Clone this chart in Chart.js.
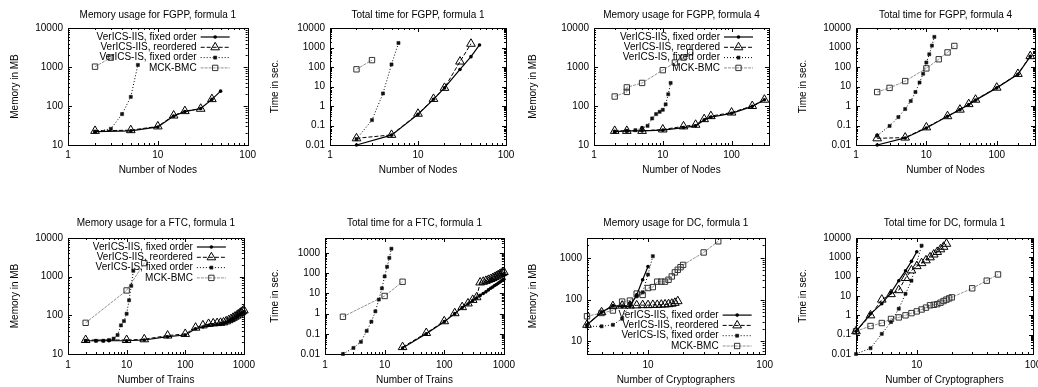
<!DOCTYPE html>
<html>
<head>
<meta charset="utf-8">
<title>VerICS-IIS, VerICS-IS and MCK-BMC</title>
<script src="https://cdn.jsdelivr.net/npm/chart.js@4.4.1/dist/chart.umd.min.js"></script>
<style>
  html, body { margin: 0; padding: 0; background: #fff; overflow: hidden; }
  body { position: relative; width: 1038px; height: 387px; }
  canvas { position: absolute; }
</style>
</head>
<body>
<script>
// series names (same four in every panel)
const seriesNames = ['VerICS-IIS, fixed order', 'VerICS-IIS, reordered', 'VerICS-IS, fixed order', 'MCK-BMC'];

// tick labels
const decadeTicks = [0.01, 0.1, 1, 10, 100, 1000, 10000];

// --- FGPP, formula 1: memory (MB)
const p1IisX = [2, 5, 10, 15, 20, 30, 40, 50];
const p1IisY = [22, 23, 29, 55, 72, 86, 148, 240];
const p1ReoX = [2, 5, 10, 15, 20, 30, 40];
const p1ReoY = [23, 24, 30, 57, 74, 85, 150];
const p1IsX = [2, 3, 4, 5, 6];
const p1IsY = [22, 26, 62, 172, 1130];
const p1MckX = [2, 3];
const p1MckY = [1020, 1740];

// --- FGPP, formula 1: time (s)
const p2IisX = [2, 5, 10, 15, 20, 30, 40, 50];
const p2IisY = [0.01, 0.032, 0.37, 2.2, 8.5, 75, 340, 1350];
const p2ReoX = [2, 5, 10, 15, 20, 30, 40];
const p2ReoY = [0.022, 0.033, 0.4, 2.3, 8.5, 190, 1550];
const p2IsX = [2, 3, 4, 5, 6];
const p2IsY = [0.02, 0.19, 4.4, 135, 1700];
const p2MckX = [2, 3];
const p2MckY = [76, 225];

// --- FGPP, formula 4: memory (MB)
const p3IisX = [2, 3, 5, 10, 20, 30, 40, 50, 100, 200, 300];
const p3IisY = [22, 23, 23, 24, 28, 31, 44, 52, 65, 98, 145];
const p3ReoX = [2, 3, 5, 10, 20, 30, 40, 50, 100, 200, 300];
const p3ReoY = [23, 23, 23, 25, 30, 33, 46, 55, 68, 100, 145];
const p3IsX = [2, 3, 4, 5, 6, 7, 8, 9, 10, 11, 12, 13];
const p3IsY = [22, 23, 24, 27, 31, 48, 62, 71, 80, 110, 200, 390];
const p3MckX = [2, 3, 3, 5, 10, 15, 20, 25];
const p3MckY = [175, 230, 300, 390, 830, 1300, 1750, 2400];

// --- FGPP, formula 4: time (s)
const p4IisX = [2, 5, 10, 20, 30, 40, 50, 100, 200, 300];
const p4IisY = [0.01, 0.023, 0.075, 0.3, 0.65, 1.2, 2.0, 8.5, 42, 350];
const p4ReoX = [2, 5, 10, 20, 30, 40, 50, 100, 200, 300];
const p4ReoY = [0.022, 0.024, 0.08, 0.3, 0.65, 1.25, 2.1, 8.7, 44, 360];
const p4IsX = [2, 3, 4, 5, 6, 7, 8, 9, 10, 11, 12, 13];
const p4IsY = [0.03, 0.095, 0.27, 0.7, 1.8, 5.2, 16, 45, 170, 450, 1250, 3500];
const p4MckX = [2, 3, 5, 10, 15, 20, 25];
const p4MckY = [5.2, 8.5, 19, 85, 250, 560, 1200];

// --- FTC, formula 1: memory (MB)
const p5IisX = [2, 3, 4, 5, 10, 20, 50, 100, 150, 200, 250, 300, 350, 400, 450, 500, 550, 600, 650, 700, 750, 800, 850, 900, 950, 1000];
const p5IisY = [22, 22, 22, 22, 22, 23, 28, 31, 45, 50, 55, 57, 58, 60, 62, 66, 70, 75, 80, 85, 90, 97, 105, 110, 118, 125];
const p5ReoX = [2, 10, 20, 50, 100, 150, 200, 250, 300, 350, 400, 450, 500, 550, 600, 650, 700, 750, 800, 850, 900, 950, 1000];
const p5ReoY = [23, 23, 24, 30, 33, 48, 55, 60, 62, 63, 64, 66, 70, 75, 80, 86, 92, 98, 105, 112, 120, 128, 135];
const p5IsX = [2, 3, 4, 5, 6, 7, 8, 9, 10, 11, 12, 13];
const p5IsY = [22, 22, 22, 23, 25, 31, 55, 71, 110, 245, 580, 1420];
const p5MckX = [2, 10, 20];
const p5MckY = [64, 440, 2240];

// --- FTC, formula 1: time (s)
const p6IisX = [20, 50, 100, 150, 200, 250, 300, 350, 400, 450, 500, 550, 600, 650, 700, 750, 800, 850, 900, 950, 1000];
const p6IisY = [0.02, 0.1, 0.4, 1.0, 2.0, 3.0, 4.5, 6, 8, 10, 12, 15, 18, 21, 25, 28, 32, 36, 41, 46, 50];
const p6ReoX = [20, 50, 100, 150, 200, 250, 300, 350, 400, 450, 500, 550, 600, 650, 700, 750, 800, 850, 900, 950, 1000];
const p6ReoY = [0.022, 0.11, 0.42, 1.05, 2.1, 3.2, 4.8, 6.5, 35, 38, 42, 47, 52, 58, 65, 72, 80, 88, 96, 105, 115];
const p6IsX = [2, 3, 4, 5, 6, 7, 8, 9, 10, 11, 12, 13];
const p6IsY = [0.01, 0.02, 0.04, 0.14, 0.4, 1.3, 5, 18, 70, 210, 580, 1650];
const p6MckX = [2, 10, 20];
const p6MckY = [0.7, 7.5, 38];

// --- DC, formula 1: memory (MB)
const p7IisX = [3, 4, 5, 6, 7, 8, 9, 10];
const p7IisY = [25, 50, 72, 68, 69, 130, 300, 620];
const p7ReoX = [3, 4, 5, 6, 7, 8, 9, 10, 11, 12, 13, 14, 15, 16, 17, 18];
const p7ReoY = [25, 50, 70, 72, 72, 73, 74, 74, 75, 75, 76, 77, 78, 80, 84, 92];
const p7IsX = [3, 4, 5, 6, 7, 8, 9, 10, 11];
const p7IsY = [23, 23, 25, 35, 80, 120, 150, 400, 1100];
const p7MckX = [3, 4, 5, 6, 7, 8, 9, 10, 11, 12, 13, 14, 15, 16, 17, 18, 19, 20, 30, 40];
const p7MckY = [40, 48, 55, 90, 95, 140, 130, 190, 200, 270, 270, 270, 300, 360, 450, 520, 600, 680, 1350, 2500];

// --- DC, formula 1: time (s)
const p8IisX = [3, 4, 5, 6, 7, 8, 9, 10];
const p8IisY = [0.15, 1.2, 4, 15, 62, 200, 620, 1950];
const p8ReoX = [3, 4, 5, 6, 7, 8, 9, 10, 11, 12, 13, 14, 15, 16, 17, 18];
const p8ReoY = [0.15, 1.0, 6.5, 12.5, 20, 85, 210, 350, 500, 700, 1000, 1400, 1900, 2600, 3500, 5000];
const p8IsX = [3, 4, 5, 6, 7, 8, 9, 11];
const p8IsY = [0.01, 0.02, 0.11, 0.45, 2.2, 13, 62, 4000];
const p8MckX = [3, 4, 5, 6, 7, 8, 9, 10, 11, 12, 13, 14, 15, 16, 17, 18, 19, 20, 30, 40, 50];
const p8MckY = [0.15, 0.28, 0.4, 0.65, 0.78, 1.0, 1.3, 1.6, 2.0, 2.5, 3.3, 3.5, 3.8, 4.5, 5.5, 6.5, 7.5, 8.5, 25, 62, 130];

const FONT = '"Liberation Sans", Arial, sans-serif';

// line/point look for the four series
const looks = [
  { borderColor: '#000', borderWidth: 1.2, borderDash: [], pointStyle: 'circle', pointRadius: 1.8,
    pointBackgroundColor: '#000', pointBorderColor: '#000', pointBorderWidth: 0 },
  { borderColor: '#000', borderWidth: 1, borderDash: [4, 2], pointStyle: 'triangle', pointRadius: 5,
    pointBackgroundColor: 'rgba(0,0,0,0)', pointBorderColor: '#000', pointBorderWidth: 1 },
  { borderColor: '#000', borderWidth: 1, borderDash: [1, 2], pointStyle: 'rect', pointRadius: 2.2,
    pointBackgroundColor: '#111', pointBorderColor: '#111', pointBorderWidth: 0.5 },
  { borderColor: '#777', borderWidth: 0.8, borderDash: [3, 1], pointStyle: 'rect', pointRadius: 3.8,
    pointBackgroundColor: 'rgba(0,0,0,0)', pointBorderColor: '#333', pointBorderWidth: 1 }
];

const panels = [
  { left: 0, top: 0, w: 260, h: 190, area: [68, 28, 248, 145], titleY: 15, yTitleX: 15, xTitleY: 170, xLabGap: 4,
    title: 'Memory usage for FGPP, formula 1', xTitle: 'Number of Nodes', yTitle: 'Memory in MB',
    x: [1, 100], y: [10, 10000], key: 'top', keyR: 18,
    series: [[p1IisX, p1IisY], [p1ReoX, p1ReoY], [p1IsX, p1IsY], [p1MckX, p1MckY]] },
  { left: 260, top: 0, w: 260, h: 190, area: [70, 28, 246, 145], titleY: 15, yTitleX: 15, xTitleY: 170, xLabGap: 4,
    title: 'Total time for FGPP, formula 1', xTitle: 'Number of Nodes', yTitle: 'Time in sec.',
    x: [1, 100], y: [0.01, 10000], key: null,
    series: [[p2IisX, p2IisY], [p2ReoX, p2ReoY], [p2IsX, p2IsY], [p2MckX, p2MckY]] },
  { left: 520, top: 0, w: 258, h: 190, area: [74, 28, 249, 145], titleY: 15, yTitleX: 13, xTitleY: 170, xLabGap: 4,
    title: 'Memory usage for FGPP, formula 4', xTitle: 'Number of Nodes', yTitle: 'Memory in MB',
    x: [1, 350], y: [10, 10000], key: 'top', keyR: 16,
    series: [[p3IisX, p3IisY], [p3ReoX, p3ReoY], [p3IsX, p3IsY], [p3MckX, p3MckY]] },
  { left: 778, top: 0, w: 282, h: 190, area: [78, 28, 257, 145], titleY: 15, yTitleX: 25, xTitleY: 170, xLabGap: 4,
    title: 'Total time for FGPP, formula 4', xTitle: 'Number of Nodes', yTitle: 'Time in sec.',
    x: [1, 350], y: [0.01, 10000], key: null,
    series: [[p4IisX, p4IisY], [p4ReoX, p4ReoY], [p4IsX, p4IsY], [p4MckX, p4MckY]] },
  { left: 0, top: 190, w: 260, h: 197, area: [68, 48, 248, 164], titleY: 33, yTitleX: 15, xTitleY: 190, xLabGap: 5,
    title: 'Memory usage for a FTC, formula 1', xTitle: 'Number of Trains', yTitle: 'Memory in MB',
    x: [1, 1000], y: [10, 10000], key: 'top', keyR: 18,
    series: [[p5IisX, p5IisY], [p5ReoX, p5ReoY], [p5IsX, p5IsY], [p5MckX, p5MckY]] },
  { left: 260, top: 190, w: 260, h: 197, area: [65, 48, 246, 164], titleY: 33, yTitleX: 15, xTitleY: 190, xLabGap: 5,
    title: 'Total time for a FTC, formula 1', xTitle: 'Number of Trains', yTitle: 'Time in sec.',
    x: [1, 1000], y: [0.01, 5600], key: null,
    series: [[p6IisX, p6IisY], [p6ReoX, p6ReoY], [p6IsX, p6IsY], [p6MckX, p6MckY]] },
  { left: 520, top: 190, w: 258, h: 197, area: [67, 48, 250, 164], titleY: 33, yTitleX: 13, xTitleY: 190, xLabGap: 5,
    title: 'Memory usage for DC, formula 1', xTitle: 'Number of Cryptographers', yTitle: 'Memory in MB',
    x: [3, 100], y: [5, 3000], key: 'bottom', keyR: 13,
    series: [[p7IisX, p7IisY], [p7ReoX, p7ReoY], [p7IsX, p7IsY], [p7MckX, p7MckY]] },
  { left: 778, top: 190, w: 282, h: 197, area: [78, 48, 255, 164], titleY: 33, yTitleX: 25, xTitleY: 190, xLabGap: 5,
    title: 'Total time for DC, formula 1', xTitle: 'Number of Cryptographers', yTitle: 'Time in sec.',
    x: [3, 100], y: [0.01, 10000], key: null,
    series: [[p8IisX, p8IisY], [p8ReoX, p8ReoY], [p8IsX, p8IsY], [p8MckX, p8MckY]] }
];

// all 1..9 x 10^e values inside [min, max]; m == 1 is a major tick
function logSteps(min, max) {
  const out = [];
  for (let e = Math.floor(Math.log10(min)); e <= Math.ceil(Math.log10(max)); e++) {
    for (let m = 1; m <= 9; m++) {
      const v = +(m * Math.pow(10, e)).toPrecision(6);
      if (v >= min * 0.9999 && v <= max * 1.0001) out.push({ v, major: m === 1 });
    }
  }
  return out;
}

// gnuplot-ish frame: box, inward mirrored ticks, title over the plot and the key
const gnuplotLook = {
  id: 'gnuplotLook',
  afterDatasetsDraw(chart, args, opts) {
    const { ctx, chartArea: a } = chart;
    const xs = chart.scales.x, ys = chart.scales.y;
    ctx.save();
    ctx.setLineDash([]);
    ctx.strokeStyle = '#000';
    ctx.lineWidth = 1;
    ctx.beginPath();
    logSteps(xs.min, xs.max).forEach(t => {
      const px = Math.round(xs.getPixelForValue(t.v)) + 0.5;
      const len = t.major ? 4 : 2;
      ctx.moveTo(px, a.bottom); ctx.lineTo(px, a.bottom - len);
      ctx.moveTo(px, a.top); ctx.lineTo(px, a.top + len);
    });
    logSteps(ys.min, ys.max).forEach(t => {
      const py = Math.round(ys.getPixelForValue(t.v)) + 0.5;
      const len = t.major ? 4 : 2;
      ctx.moveTo(a.left, py); ctx.lineTo(a.left + len, py);
      ctx.moveTo(a.right, py); ctx.lineTo(a.right - len, py);
    });
    ctx.stroke();
    ctx.strokeRect(Math.round(a.left) + 0.5, Math.round(a.top) + 0.5,
      Math.round(a.right - a.left), Math.round(a.bottom - a.top));

    ctx.fillStyle = '#000';
    ctx.font = '10px ' + FONT;
    ctx.textBaseline = 'middle';
    ctx.textAlign = 'center';
    ctx.fillText(opts.title, (a.left + a.right) / 2, opts.titleY);

    if (opts.key) {
      const sets = chart.data.datasets;
      const rowH = 10.3;
      const sR = a.right - opts.keyR, sL = sR - 29;
      const y0 = opts.key === 'top' ? a.top + 9 : a.bottom - 8 - (sets.length - 1) * rowH;
      sets.forEach((ds, i) => {
        const yy = y0 + i * rowH;
        ctx.fillStyle = '#000';
        ctx.textAlign = 'right';
        ctx.fillText(ds.label, sL - 4, yy);
        ctx.beginPath();
        ctx.setLineDash(ds.borderDash);
        ctx.strokeStyle = ds.borderColor;
        ctx.lineWidth = ds.borderWidth;
        ctx.moveTo(sL, yy); ctx.lineTo(sR, yy);
        ctx.stroke();
        ctx.setLineDash([]);
        ctx.fillStyle = ds.pointBackgroundColor;
        ctx.strokeStyle = ds.pointBorderColor;
        ctx.lineWidth = ds.pointBorderWidth;
        Chart.helpers.drawPoint(ctx, { pointStyle: ds.pointStyle, radius: ds.pointRadius,
          borderWidth: ds.pointBorderWidth, rotation: 0 }, (sL + sR) / 2, yy);
      });
    }
    ctx.restore();
  }
};

function makePanel(p) {
  const cv = document.createElement('canvas');
  cv.width = p.w; cv.height = p.h;
  cv.style.left = p.left + 'px'; cv.style.top = p.top + 'px';
  document.body.appendChild(cv);

  const [L, T, R, B] = p.area;
  const datasets = p.series.map((s, i) => Object.assign({
    label: seriesNames[i],
    data: s[0].map((x, j) => ({ x, y: s[1][j] })),
    showLine: true,
    clip: false
  }, looks[i]));

  const font = { family: FONT, size: 10 };
  const keepTicks = (min, max) => scale => {
    scale.ticks = decadeTicks.filter(v => v >= min * 0.9999 && v <= max * 1.0001).map(v => ({ value: v }));
  };

  new Chart(cv, {
    type: 'scatter',
    data: { datasets },
    options: {
      responsive: false,
      animation: false,
      events: [],
      layout: { padding: { left: 0, top: T, right: p.w - R, bottom: 0 } },
      plugins: {
        legend: { display: false },
        tooltip: { enabled: false },
        gnuplotLook: { title: p.title, titleY: p.titleY, key: p.key, keyR: p.keyR }
      },
      scales: {
        x: {
          type: 'logarithmic', min: p.x[0], max: p.x[1],
          afterBuildTicks: keepTicks(p.x[0], p.x[1]),
          afterFit: s => { s.height = p.h - B; },
          grid: { display: false, drawTicks: false },
          border: { display: false },
          ticks: { font, color: '#000', padding: p.xLabGap, maxRotation: 0, autoSkip: false,
            callback: v => String(v) },
          title: { display: true, text: p.xTitle, font, color: '#000',
            padding: { top: 0, bottom: p.h - p.xTitleY - 6 } }
        },
        y: {
          type: 'logarithmic', min: p.y[0], max: p.y[1],
          afterBuildTicks: keepTicks(p.y[0], p.y[1]),
          afterFit: s => { s.width = L; },
          grid: { display: false, drawTicks: false },
          border: { display: false },
          ticks: { font, color: '#000', padding: 5, autoSkip: false, callback: v => String(v) },
          title: { display: true, text: p.yTitle, font, color: '#000',
            padding: { top: p.yTitleX - 6, bottom: 0 } }
        }
      }
    },
    plugins: [gnuplotLook]
  });
}

panels.forEach(makePanel);
</script>
</body>
</html>
